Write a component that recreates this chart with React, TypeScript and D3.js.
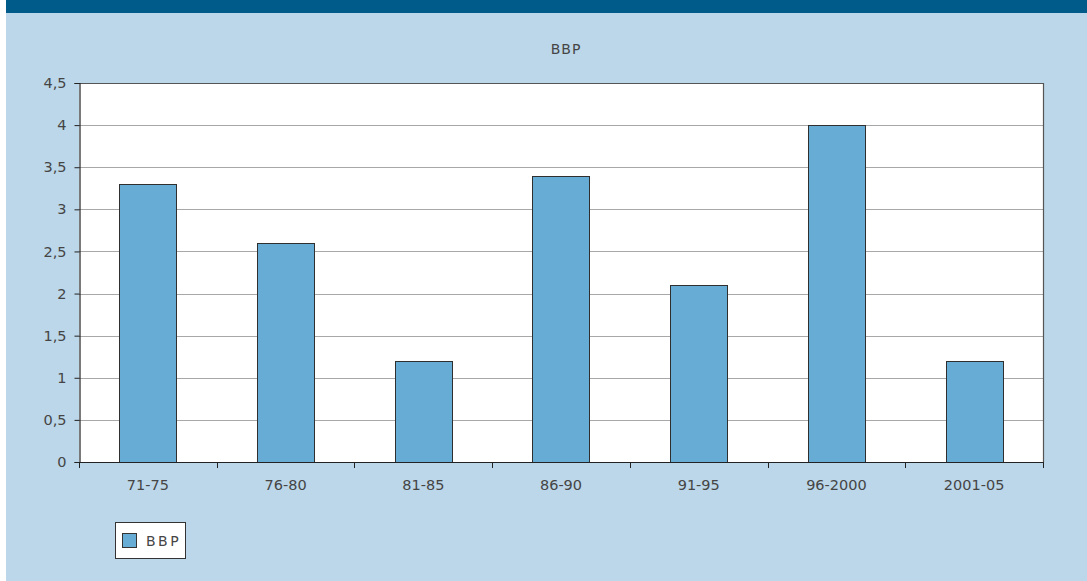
import React, { useEffect, useRef } from "react";
import * as d3 from "d3";

// chart data
const categories = ["71-75", "76-80", "81-85", "86-90", "91-95", "96-2000", "2001-05"];
const bbpValues = [3.3, 2.6, 1.2, 3.4, 2.1, 4.0, 1.2];
const yTicks = [0, 0.5, 1, 1.5, 2, 2.5, 3, 3.5, 4, 4.5];
const seriesName = "BBP";

const WIDTH = 1087;
const HEIGHT = 581;

export default function App() {
  const svgRef = useRef<SVGSVGElement>(null);

  useEffect(() => {
    if (!svgRef.current) return;
    const svg = d3.select(svgRef.current);
    svg.selectAll("*").remove();

    const font = "'DejaVu Sans', sans-serif";
    const textColor = "#454545";
    const fontSize = "14.5px";

    // background panel
    svg.append("rect").attr("x", 0).attr("y", 0).attr("width", WIDTH).attr("height", HEIGHT).attr("fill", "#ffffff");
    svg.append("rect").attr("x", 6).attr("y", 0).attr("width", WIDTH - 6).attr("height", HEIGHT).attr("fill", "#bcd7e9");
    svg.append("rect").attr("x", 6).attr("y", 0).attr("width", WIDTH - 6).attr("height", 13).attr("fill", "#005b8a");

    const plot = { left: 79, right: 1043, top: 83, bottom: 462 };

    const x = d3
      .scaleBand<string>()
      .domain(categories)
      .range([plot.left, plot.right])
      .paddingInner(0.586)
      .paddingOuter(0.293);

    const y = d3.scaleLinear().domain([0, 4.5]).range([plot.bottom, plot.top]);

    // plot area
    svg
      .append("rect")
      .attr("x", plot.left)
      .attr("y", plot.top)
      .attr("width", plot.right - plot.left)
      .attr("height", plot.bottom - plot.top)
      .attr("fill", "#ffffff");

    // grid
    svg
      .append("g")
      .selectAll("line")
      .data(yTicks.filter((t) => t > 0 && t < 4.5))
      .enter()
      .append("line")
      .attr("x1", plot.left)
      .attr("x2", plot.right)
      .attr("y1", (d) => Math.round(y(d)) + 0.5)
      .attr("y2", (d) => Math.round(y(d)) + 0.5)
      .attr("stroke", "#a8a8a8")
      .attr("stroke-width", 1.2);

    // plot border (top / right)
    svg
      .append("path")
      .attr("d", `M${plot.left},${plot.top + 0.5}H${plot.right + 0.5}V${plot.bottom}`)
      .attr("fill", "none")
      .attr("stroke", "#555")
      .attr("stroke-width", 1.2);

    // bars
    svg
      .append("g")
      .selectAll("rect")
      .data(bbpValues)
      .enter()
      .append("rect")
      .attr("x", (_, i) => Math.round(x(categories[i]) as number) + 0.5)
      .attr("y", (d) => Math.round(y(d)) + 0.5)
      .attr("width", Math.round(x.bandwidth()))
      .attr("height", (d) => Math.round(y(0)) - Math.round(y(d)))
      .attr("fill", "#66acd5")
      .attr("stroke", "#2f2f2f")
      .attr("stroke-width", 1);

    // y axis
    const yAxis = svg
      .append("g")
      .attr("transform", `translate(${plot.left + 0.5},0)`)
      .call(
        d3
          .axisLeft(y)
          .tickValues(yTicks)
          .tickSize(5)
          .tickPadding(8)
          .tickFormat((d) => String(d).replace(".", ","))
      );
    yAxis.select(".domain").attr("stroke", "#222").attr("stroke-width", 1.2);
    yAxis.selectAll(".tick line").attr("stroke", "#222");
    yAxis
      .selectAll("text")
      .attr("fill", textColor)
      .style("font-family", font)
      .style("font-size", fontSize);

    // x axis
    const xAxis = svg
      .append("g")
      .attr("transform", `translate(0,${plot.bottom + 0.5})`)
      .call(d3.axisBottom(x).tickSize(0).tickPadding(17));
    xAxis.select(".domain").remove();
    xAxis
      .selectAll("text")
      .attr("fill", textColor)
      .style("font-family", font)
      .style("font-size", fontSize);

    svg
      .append("line")
      .attr("x1", plot.left)
      .attr("x2", plot.right + 1)
      .attr("y1", plot.bottom + 0.5)
      .attr("y2", plot.bottom + 0.5)
      .attr("stroke", "#222")
      .attr("stroke-width", 1.2);

    // x ticks at category boundaries
    const step = x.step();
    const boundaries = d3.range(categories.length + 1).map((i) => plot.left + i * step);
    svg
      .append("g")
      .selectAll("line")
      .data(boundaries)
      .enter()
      .append("line")
      .attr("x1", (d) => Math.round(d) + 0.5)
      .attr("x2", (d) => Math.round(d) + 0.5)
      .attr("y1", plot.bottom)
      .attr("y2", plot.bottom + 6)
      .attr("stroke", "#222");

    // title
    svg
      .append("text")
      .attr("x", (plot.left + plot.right) / 2 + 5)
      .attr("y", 54)
      .attr("text-anchor", "middle")
      .attr("fill", textColor)
      .style("font-family", font)
      .style("font-size", "14px")
      .style("letter-spacing", "1px")
      .text(seriesName);

    // legend
    const legend = svg.append("g").attr("transform", "translate(115,522)");
    legend
      .append("rect")
      .attr("x", 0.5)
      .attr("y", 0.5)
      .attr("width", 70)
      .attr("height", 36)
      .attr("fill", "#ffffff")
      .attr("stroke", "#333");
    legend
      .append("rect")
      .attr("x", 7.5)
      .attr("y", 11.5)
      .attr("width", 14)
      .attr("height", 14)
      .attr("fill", "#66acd5")
      .attr("stroke", "#333");
    legend
      .append("text")
      .attr("x", 31)
      .attr("y", 24)
      .attr("fill", textColor)
      .style("font-family", font)
      .style("font-size", "14px")
      .style("letter-spacing", "2.5px")
      .text(seriesName);
  }, []);

  return (
    <svg
      ref={svgRef}
      width={WIDTH}
      height={HEIGHT}
      style={{ position: "fixed", left: 0, top: 0, display: "block" }}
    />
  );
}
